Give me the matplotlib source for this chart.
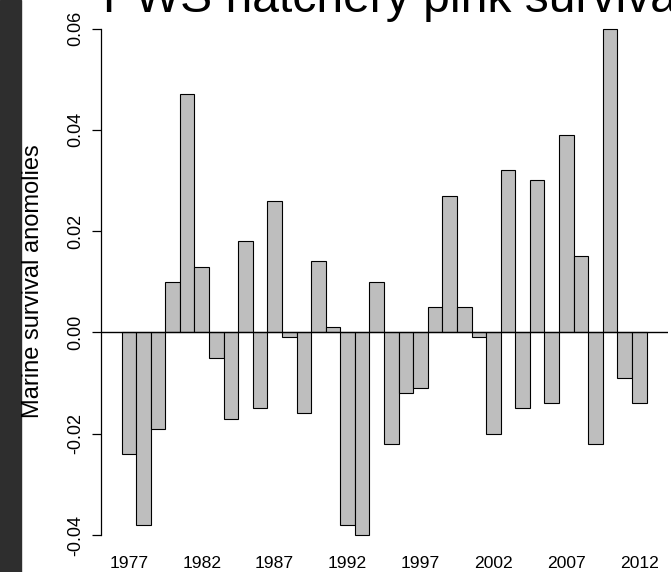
import matplotlib
matplotlib.use("Agg")
import matplotlib.pyplot as plt
import numpy as np
from matplotlib.patches import Rectangle

plt.rcParams["font.family"] = ["Liberation Sans", "DejaVu Sans"]

# --- data -------------------------------------------------------------------
years = list(range(1977, 2013))
anomaly = [
    -0.024, -0.038, -0.019, 0.010, 0.047, 0.013, -0.005, -0.017, 0.018, -0.015,
    0.026, -0.001, -0.016, 0.014, 0.001, -0.038, -0.040, 0.010, -0.022, -0.012,
    -0.011, 0.005, 0.027, 0.005, -0.001, -0.020, 0.032, -0.015, 0.030, -0.014,
    0.039, 0.015, -0.022, 0.060, -0.009, -0.014,
]
label_years = [1977, 1982, 1987, 1992, 1997, 2002, 2007, 2012]
yticks = [-0.04, -0.02, 0.00, 0.02, 0.04, 0.06]
title = "PWS hatchery pink survival"
ylabel = "Marine survival anomolies"

W, H = 671, 572
fig = plt.figure(figsize=(W / 100, H / 100), dpi=100)
fig.patch.set_facecolor("white")

# dark strip down the left edge of the screenshot
fig.add_artist(Rectangle((0, 0), 21 / W, 1, transform=fig.transFigure,
                         color="#2e2e2e", zorder=0))

# plot region in pixels: y axis at x=100, 0.06 at y=28.5, -0.04 at y=535
left, right, top, bottom = 100.5, 667.5, 28.5, 535.0
ax = fig.add_axes([left / W, 1 - bottom / H, (right - left) / W, (bottom - top) / H])

x = np.arange(len(years))
ax.bar(x, anomaly, width=1.0, align="edge", color="#bebebe",
       edgecolor="black", linewidth=0.8, clip_on=False)
ax.axhline(0, color="black", linewidth=1.0)

ax.set_xlim(-1.44, len(years) + 1.44)
ax.set_ylim(-0.04, 0.06)

for s in ("top", "right", "bottom"):
    ax.spines[s].set_visible(False)
ax.spines["left"].set_linewidth(0.9)

ax.set_yticks(yticks)
ax.set_yticklabels([f"{v:.2f}" for v in yticks], rotation=90, va="center")
ax.tick_params(axis="y", length=6.5, width=0.9, pad=5, labelsize=13)

pos = [years.index(y) + 0.5 for y in label_years]
ax.set_xticks(pos)
ax.set_xticklabels([str(y) for y in label_years])
ax.tick_params(axis="x", length=0, pad=15, labelsize=12.6)

fig.text(39 / W, 1 - 281 / H, ylabel, rotation=90, rotation_mode="anchor",
         ha="center", va="baseline", fontsize=17)
# title is cut off by the top (and right) edge in the reference screenshot
fig.text(103 / W, 1 - 11.5 / H, title, ha="left",
         va="baseline", fontsize=34.6)

fig.savefig("out.png", dpi=100)
